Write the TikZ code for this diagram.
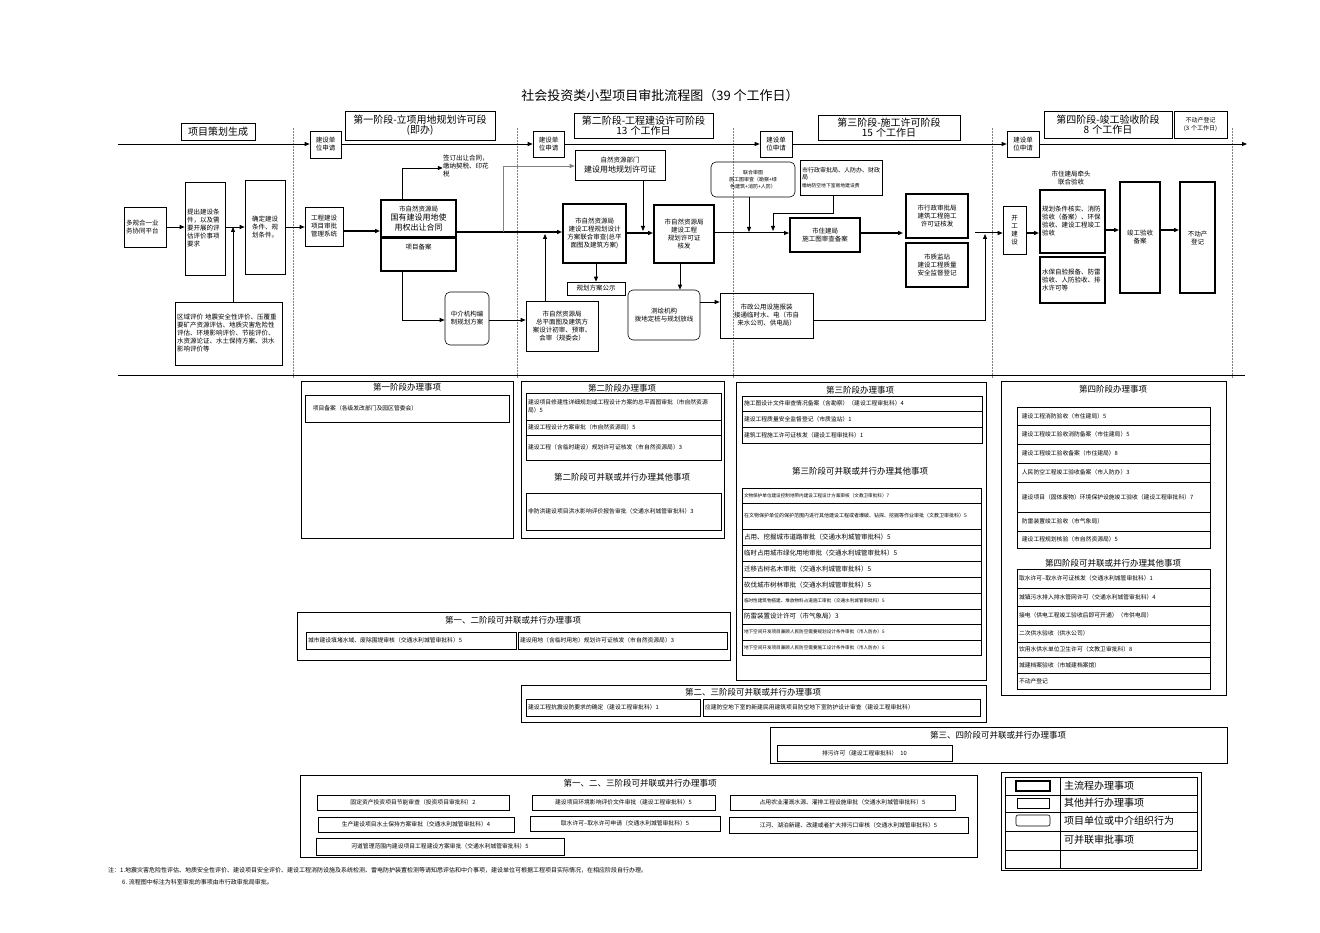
\documentclass[tikz,border=0pt]{standalone}
\usepackage{fontspec}
\setmainfont{Noto Sans CJK SC}
\XeTeXlinebreaklocale "zh"
\XeTeXlinebreakskip=0pt
\usetikzlibrary{arrows.meta}
\newcommand\bx[7][]{\node[bx,#1,minimum width={(#5-#3)*1pt},minimum height={(#6-#4)*1pt},text width={(#5-#3-4)*1pt}] (#2) at ({(#3+#5)/2},{(#4+#6)/2}) {#7};}
\begin{document}
\begin{tikzpicture}[x=1pt,y=-1pt,
  bx/.style={draw,line width=0.6pt,inner sep=1pt,align=center,font=\fontsize{6.5}{8}\selectfont},
  thk/.style={line width=2pt},
  rnd/.style={rounded corners=5pt},
  it/.style={align=left,font=\fontsize{5.8}{8}\selectfont},
  itt/.style={align=left,font=\fontsize{4.6}{7}\selectfont},
  hd/.style={draw,line width=0.6pt,inner sep=1pt,align=center,font=\fontsize{10}{10.5}\selectfont},
  ttl/.style={font=\fontsize{8.5}{10}\selectfont},
  arr/.style={-{Triangle[length=5pt,width=4pt]},line width=0.8pt},
  tarr/.style={-{Triangle[length=5pt,width=4pt]},line width=1.8pt},
  sep/.style={densely dotted,line width=0.5pt,gray}]
\useasboundingbox (0,0) rectangle (1320,933);
\fill[white] (0,0) rectangle (1320,933);
\node[font=\fontsize{13}{15}\selectfont] (title) at (660,96) {社会投资类小型项目审批流程图（39 个工作日）};
% separators
\foreach \xx in {293,517,733,992,1232} \draw[sep] (\xx,128) -- (\xx,378);
\draw[line width=0.8pt] (118,375) -- (1245,375);
% headers
\bx[hd]{h0}{181}{123}{255}{140}{项目策划生成}
\bx[hd]{h1}{345}{111}{495}{140}{第一阶段-立项用地规划许可段\\(即办)}
\bx[hd]{h2}{574}{113}{713}{138}{第二阶段-工程建设许可阶段\\13 个工作日}
\bx[hd]{h3}{818}{115}{960}{140}{第三阶段-施工许可阶段\\15 个工作日}
\bx[hd]{h4}{1044}{111}{1172}{138}{第四阶段-竣工验收阶段\\8 个工作日}
\bx[font=\fontsize{6}{7.5}\selectfont]{h5}{1174}{111}{1227}{138}{不动产登记\\(3 个工作日)}
\bx{a1}{310}{131}{341}{158}{建设单\\位申请}
\bx{a2}{533}{131}{564}{157}{建设单\\位申请}
\bx{a3}{760}{131}{792}{157}{建设单\\位申请}
\bx{a4}{1007}{131}{1039}{157}{建设单\\位申请}
\coordinate (m0) at (118,144); \coordinate (m5) at (1247,144);
\draw[arr] (m0) -- (a1.west |- m0);
\draw[arr] (a1.east |- m0) -- (a2.west |- m0);
\draw[arr] (a2.east |- m0) -- (a3.west |- m0);
\draw[arr] (a3.east |- m0) -- (a4.west |- m0);
\draw[arr] (a4.east |- m0) -- (m5);
% flow boxes
\bx[align=left]{duo}{124}{207}{166}{247}{多规合一业务协同平台}
\bx[align=left]{tc}{185}{182}{225}{275}{提出建设条件，以及需要开展的评估评价事项要求}
\bx{qd}{245}{180}{285}{274}{确定建设条件、规划条件。}
\bx[align=left]{qy}{175}{302}{282}{365}{区域评价 地震安全性评价、压覆重要矿产资源评估、地质灾害危险性评估、环境影响评价、节能评价、水资源论证、水土保持方案、洪水影响评价等}
\bx{gc}{305}{207}{343}{246}{工程建设项目审批管理系统}
\bx[thk,font=\fontsize{8}{9.5}\selectfont]{gy}{381}{200}{456}{237}{{\fontsize{6.5}{8}\selectfont 市自然资源局}\\国有建设用地使用权出让合同}
\node[draw,thk,minimum width=75pt,minimum height=33pt,anchor=north,inner sep=1pt] (ba) at (418.5,237) {};
\node[font=\fontsize{6.5}{8}\selectfont,anchor=north] (bat) at (418.5,240) {项目备案};
\node[align=left,font=\fontsize{6.5}{8}\selectfont,text width=50pt,inner sep=0pt] (qd2) at (468,166) {签订出让合同，缴纳契税、印花税};
\bx[rnd]{zj}{445}{292}{489}{345}{中介机构编制规划方案}
\bx[font=\fontsize{8}{9.5}\selectfont]{zr}{575}{150}{665}{180}{{\fontsize{6.5}{8}\selectfont 自然资源部门}\\建设用地规划许可证}
\bx[thk]{sj}{563}{204}{626}{263}{市自然资源局\\建设工程规划设计方案联合审查(总平面图及建筑方案)}
\bx{gs}{567}{282}{625}{295}{规划方案公示}
\bx{zp}{526}{301}{598}{351}{市自然资源局\\总平面图及建筑方案设计初审、预审、会审（规委会）}
\bx[thk]{hf}{654}{205}{714}{263}{市自然资源局\\建设工程\\规划许可证\\核发}
\bx[rnd]{ch}{628}{290}{700}{340}{测绘机构\\拨地定桩与规划放线}
\bx{sz}{720}{293}{813}{338}{市政公用设施报装\\接通临时水、电（市自来水公司、供电局）}
\bx[rnd,font=\fontsize{5}{7}\selectfont]{lh}{711}{162}{795}{197}{联合审图\\施工图审查（勘察+绿色建筑+消防+人防）}
\bx[align=left,font=\fontsize{6}{7.5}\selectfont]{xz}{800}{160}{882}{195}{市行政审批局、人防办、财政局\\{\fontsize{4.8}{6}\selectfont 缴纳防空地下室易地建设费}}
\bx[thk]{zjj}{790}{218}{860}{252}{市住建局\\施工图审查备案}
\bx[thk]{sg}{906}{194}{968}{238}{市行政审批局\\建筑工程施工许可证核发}
\bx[thk]{zl}{906}{243}{968}{287}{市质监站\\建设工程质量安全监督登记}
\bx{kg}{1003}{206}{1026}{254}{开\\工\\建\\设}
\node[font=\fontsize{6.5}{8}\selectfont,align=center] (qt) at (1071,178) {市住建局牵头\\联合验收};
\bx[thk,align=left]{gh}{1040}{190}{1105}{253}{规划条件核实、消防验收（备案）、环保验收、建设工程竣工验收}
\bx[thk,align=left]{sb}{1040}{257}{1105}{303}{水保自验报备、防雷验收、人防验收、排水许可等}
\bx[thk]{jg}{1120}{182}{1160}{293}{竣工验收\\备案}
\bx[thk]{bd}{1180}{182}{1215}{293}{不动产\\登记}
% flow arrows
\draw[arr] (duo.east) -- (tc.west |- duo.east);
\draw[arr] (tc.east |- duo.east) -- (qd.west |- duo.east);
\coordinate (up1) at (233,227);
\draw[arr] (qy.north -| up1) -- (up1);
\draw[arr] (qd.east |- duo.east) -- (gc.west |- duo.east);
\draw[tarr] (gc.east |- 0,231) -- (gy.west |- 0,231);
\draw[tarr] (gy.east |- 0,232) -- (sj.west |- 0,232);
\draw[arr] (402,200) -- (402,168) -- (qd2.west |- 0,168);
\draw[arr] (ba.south -| 402,0) -- (402,320) -- (zj.west |- 0,320);
\draw[arr] (zj.east |- 0,320) -- (zp.west |- 0,320);
\draw[arr,gray] (503,232) -- (503,166) -- (zr.west |- 0,166);
\draw[arr] (zp.north -| 545,0) -- (545,234);
\draw[arr] (sj.south -| 596,0) -- (gs.north -| 596,0);
\draw[arr] (zr.south -| 643,0) -- (643,231);
\draw[tarr] (sj.east |- 0,233) -- (hf.west |- 0,233);
\draw[arr] (hf.south -| 680,0) -- (ch.north -| 680,0);
\draw[arr] (ch.east |- 0,302) -- (sz.west |- 0,302);
\draw[arr] (sz.east |- 0,320) -- (985,320) -- (985,234);
\draw[arr,line width=1pt] (hf.east |- 0,233) -- (zjj.west |- 0,233);
\draw[arr] (lh.south -| 749,0) -- (749,232);
\draw[arr] (xz.south -| 833,0) -- (833,213) -- (773,213) -- (773,231);
\draw[tarr] (zjj.east |- 0,233) -- (903,233);
\draw[arr,line width=1pt] (975,233) -- (kg.west |- 0,233);
\draw[tarr] (kg.east |- 0,233) -- (gh.west |- 0,233);
\draw[tarr] (gh.east |- 0,230) -- (jg.west |- 0,230);
\draw[tarr] (jg.east |- 0,230) -- (bd.west |- 0,230);
% ===== panels =====
\draw[line width=0.6pt] (301,381) rectangle (513,538);
\node[ttl] (p1t) at (407,387) {第一阶段办理事项};
\bx[it]{p1a}{305}{395}{509}{422}{\quad 项目备案（各级发改部门及园区管委会）}
\draw[line width=0.6pt] (521,381) rectangle (724,538);
\node[ttl] (p2t) at (622,388) {第二阶段办理事项};
\bx[it]{p2a}{526}{393}{721}{420}{建设项目修建性详细规划或工程设计方案的总平面图审批（市自然资源局）5}
\bx[it]{p2b}{526}{420}{721}{435}{建设工程设计方案审批（市自然资源局）5}
\bx[it]{p2c}{526}{435}{721}{460}{建设工程（含临时建设）规划许可证核发（市自然资源局）3}
\node[ttl] (p2t2) at (622,477) {第二阶段可并联或并行办理其他事项};
\bx[it,font=\fontsize{5.8}{12}\selectfont]{p2d}{526}{493}{721}{530}{非防洪建设项目洪水影响评价报告审批（交通水利城管审批科）3}
\draw[line width=0.6pt] (736,382) rectangle (986,680);
\node[ttl] (p3t) at (860,390) {第三阶段办理事项};
\bx[it]{p3a}{742}{396}{982}{411}{施工图设计文件审查情况备案（含勘察）（建设工程审批科）4}
\bx[it]{p3b}{742}{411}{982}{427}{建设工程质量安全监督登记（市质监站）1}
\bx[it]{p3c}{742}{427}{982}{443}{建筑工程施工许可证核发（建设工程审批科）1}
\node[ttl] (p3t2) at (860,471) {第三阶段可并联或并行办理其他事项};
\bx[itt]{p3d}{742}{488}{981}{503}{文物保护单位建设控制地带内建设工程设计方案审核（文教卫审批科）7}
\bx[itt,font=\fontsize{5}{8}\selectfont]{p3e}{742}{503}{981}{529}{在文物保护单位的保护范围内进行其他建设工程或者爆破、钻探、挖掘等作业审批（文教卫审批科）5}
\bx[it,font=\fontsize{6.5}{8}\selectfont]{p3f}{742}{529}{981}{545}{占用、挖掘城市道路审批（交通水利城管审批科）5}
\bx[it,font=\fontsize{6.5}{8}\selectfont]{p3g}{742}{545}{981}{561}{临时占用城市绿化用地审批（交通水利城管审批科）5}
\bx[it,font=\fontsize{6.5}{8}\selectfont]{p3h}{742}{561}{981}{577}{迁移古树名木审批（交通水利城管审批科）5}
\bx[it,font=\fontsize{6.5}{8}\selectfont]{p3i}{742}{577}{981}{593}{砍伐城市树林审批（交通水利城管审批科）5}
\bx[itt]{p3j}{742}{593}{981}{609}{临时性建筑物搭建、堆放物料占道施工审批（交通水利城管审批科）5}
\bx[it,font=\fontsize{6.5}{8}\selectfont]{p3k}{742}{609}{981}{624}{防雷装置设计许可（市气象局）3}
\bx[itt]{p3l}{742}{624}{981}{640}{地下空间开发项目兼顾人民防空需要规划设计条件审批（市人防办）5}
\bx[itt]{p3m}{742}{640}{981}{655}{地下空间开发项目兼顾人民防空需要施工设计条件审批（市人防办）5}
\draw[line width=0.6pt] (1001,381) rectangle (1226,695);
\node[ttl] (p4t) at (1113,389) {第四阶段办理事项};
\bx[it]{p4a}{1017}{407}{1210}{425}{\enspace 建设工程消防验收（市住建局）5}
\bx[it]{p4b}{1017}{425}{1210}{444}{\enspace 建设工程竣工验收消防备案（市住建局）5}
\bx[it]{p4c}{1017}{444}{1210}{463}{\enspace 建设工程竣工验收备案（市住建局）8}
\bx[it]{p4d}{1017}{463}{1210}{482}{\enspace 人民防空工程竣工验收备案（市人防办）3}
\bx[it]{p4e}{1017}{482}{1210}{512}{\enspace 建设项目（固体废物）环境保护设施竣工验收（建设工程审批科）7}
\bx[it]{p4f}{1017}{512}{1210}{531}{\enspace 防雷装置竣工验收（市气象局）}
\bx[it]{p4g}{1017}{531}{1210}{548}{\enspace 建设工程规划核验（市自然资源局）5}
\node[ttl] (p4t2) at (1113,563) {第四阶段可并联或并行办理其他事项};
\bx[it]{p4h}{1017}{569}{1210}{588}{取水许可--取水许可证核发（交通水利城管审批科）1}
\bx[it]{p4i}{1017}{588}{1210}{606}{城镇污水排入排水管网许可（交通水利城管审批科）4}
\bx[it]{p4j}{1017}{606}{1210}{625}{接电（供电工程竣工验收后即可开通）（市供电局）}
\bx[it]{p4k}{1017}{625}{1210}{642}{二次供水验收（供水公司）}
\bx[it]{p4l}{1017}{642}{1210}{657}{饮用水供水单位卫生许可（文教卫审批科）8}
\bx[it]{p4m}{1017}{657}{1210}{673}{城建档案验收（市城建档案馆）}
\bx[it]{p4n}{1017}{673}{1210}{689}{不动产登记}
% combined panels
\draw[line width=0.6pt] (297,612) rectangle (730,660);
\node[ttl] (q1t) at (513,620) {第一、二阶段可并联或并行办理事项};
\bx[it]{q1a}{306}{632}{516}{649}{城市建设填堵水域、废除围堤审核（交通水利城管审批科）5}
\bx[it]{q1b}{518}{632}{727}{649}{建设用地（含临时用地）规划许可证核发（市自然资源局）3}
\draw[line width=0.6pt] (521,685) rectangle (986,722);
\node[ttl] (q2t) at (753,692) {第二、三阶段可并联或并行办理事项};
\bx[it]{q2a}{526}{699}{700}{716}{建设工程抗震设防要求的确定（建设工程审批科）1}
\bx[it]{q2b}{703}{699}{980}{716}{应建防空地下室的新建民用建筑项目防空地下室防护设计审查（建设工程审批科）}
\draw[line width=0.6pt] (770,727) rectangle (1227,763);
\node[ttl] (q3t) at (998,735) {第三、四阶段可并联或并行办理事项};
\bx[font=\fontsize{5.8}{7}\selectfont]{q3a}{777}{745}{952}{761}{排污许可（建设工程审批科）\enspace 10}
\draw[line width=0.6pt] (300,775) rectangle (977,857);
\node[ttl] (q4t) at (640,783) {第一、二、三阶段可并联或并行办理事项};
\bx[font=\fontsize{5.8}{7}\selectfont]{q4a}{317}{795}{509}{810}{固定资产投资项目节能审查（投资项目审批科）2}
\bx[font=\fontsize{5.8}{7}\selectfont]{q4b}{532}{795}{715}{810}{建设项目环境影响评价文件审批（建设工程审批科）5}
\bx[font=\fontsize{5.8}{7}\selectfont]{q4c}{730}{795}{955}{810}{占用农业灌溉水源、灌排工程设施审批（交通水利城管审批科）5}
\bx[font=\fontsize{5.8}{7}\selectfont]{q4d}{318}{817}{514}{832}{生产建设项目水土保持方案审批（交通水利城管审批科）4}
\bx[font=\fontsize{5.8}{7}\selectfont]{q4e}{530}{816}{720}{831}{取水许可--取水许可申请（交通水利城管审批科）5}
\bx[font=\fontsize{5.8}{7}\selectfont]{q4f}{729}{817}{968}{833}{江河、湖泊新建、改建或者扩大排污口审核（交通水利城管审批科）5}
\bx[font=\fontsize{5.8}{7}\selectfont]{q4g}{316}{838}{564}{855}{河道管理范围内建设项目工程建设方案审批（交通水利城管审批科）5}
% legend
\draw[line width=0.6pt] (1001,772) rectangle (1201,870);
\draw[line width=0.6pt] (1005,777) rectangle (1197,868);
\draw[line width=0.6pt] (1060,777) -- (1060,868);
\foreach \yy in {795,812,831,850} \draw[line width=0.6pt] (1005,\yy) -- (1197,\yy);
\draw[line width=1.8pt] (1016,781) rectangle (1050,791);
\draw[line width=0.6pt] (1017,798) rectangle (1049,808);
\draw[line width=0.6pt,rounded corners=2pt] (1016,815) rectangle (1050,826);
\node[anchor=west,font=\fontsize{10}{11}\selectfont,inner sep=0pt] (l1) at (1064,786) {主流程办理事项};
\node[anchor=west,font=\fontsize{10}{11}\selectfont,inner sep=0pt] (l2) at (1064,803) {其他并行办理事项};
\node[anchor=west,font=\fontsize{10}{11}\selectfont,inner sep=0pt] (l3) at (1064,821) {项目单位或中介组织行为};
\node[anchor=west,font=\fontsize{10}{11}\selectfont,inner sep=0pt] (l4) at (1064,840) {可并联审批事项};
% notes
\node[anchor=west,font=\fontsize{6}{7}\selectfont,inner sep=0pt] (n1) at (108,870) {注：1.地震灾害危险性评估、地质安全性评价、建设项目安全评价、建设工程消防设施及系统检测、雷电防护装置检测等请知悉评估和中介事项，建设单位可根据工程项目实际情况，在相应阶段自行办理。};
\node[anchor=west,font=\fontsize{6}{7}\selectfont,inner sep=0pt] (n2) at (122,882) {6. 流程图中标注为科室审批的事项由市行政审批局审批。};
\end{tikzpicture}
\end{document}
